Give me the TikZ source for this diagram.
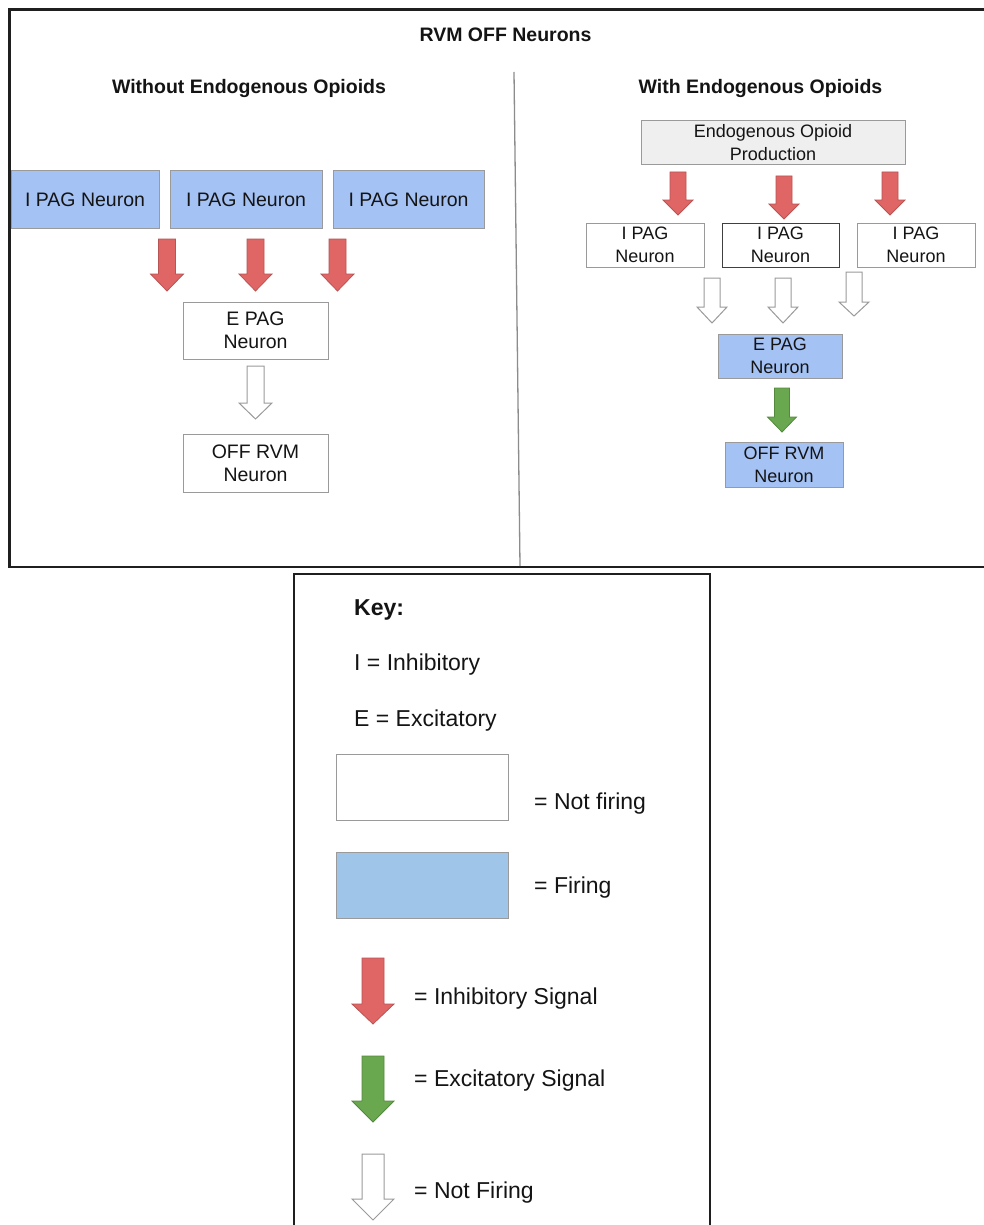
\documentclass[tikz,border=0pt]{standalone}
\usepackage{fontspec}
\setmainfont{Liberation Sans}
\definecolor{redf}{HTML}{E06666}
\definecolor{redd}{HTML}{B85454}
\definecolor{greenf}{HTML}{6AA84F}
\definecolor{greend}{HTML}{55883F}
\definecolor{bluef}{HTML}{A4C2F4}
\definecolor{keyblue}{HTML}{9FC5E8}
\definecolor{grayf}{HTML}{EFEFEF}
\definecolor{bord}{HTML}{9A9A9A}
\definecolor{txt}{HTML}{141414}
\newcommand{\fatarrow}[7]{% style, cx, top, tip, shaft half, head half, head start
  \draw[#1] (#2-#5,#3) -- (#2+#5,#3) -- (#2+#5,#7) -- (#2+#6,#7) -- (#2,#4)
    -- (#2-#6,#7) -- (#2-#5,#7) -- cycle;}
\tikzset{
  box/.style={draw=bord, line width=1pt, rectangle, inner sep=0pt, align=center, text=txt},
  firebox/.style={box, fill=bluef},
  offbox/.style={box, fill=white},
  lfont/.style={font=\fontsize{19.5}{23}\selectfont},
  rfont/.style={font=\fontsize{18}{23}\selectfont},
  ttl/.style={font=\bfseries\fontsize{19.5}{23}\selectfont, text=txt, inner sep=0pt},
  keytxt/.style={font=\fontsize{23}{27}\selectfont, text=txt, inner sep=0pt, anchor=base west},
  inh/.style={fill=redf, draw=redd, line width=0.8pt, line join=miter},
  exc/.style={fill=greenf, draw=greend, line width=0.8pt, line join=miter},
  hol/.style={fill=white, draw=bord, line width=1pt, line join=miter},
}
\begin{document}
\begin{tikzpicture}[x=1pt, y=-1pt]
\useasboundingbox (0,0) rectangle (984,1225);
\fill[white] (0,0) rectangle (984,1225);

% outer frame and divider
\draw[line width=2.2pt, draw=black!88] (9.5,9.5) rectangle (995,567);
\draw[line width=1.3pt, draw=black!45] (514,72) -- (520,566);

% titles
\node[ttl, anchor=base] (title) at (505.5,42) {RVM OFF Neurons};
\node[ttl, anchor=base] (tleft) at (249,94) {Without Endogenous Opioids};
\node[ttl, anchor=base] (tright) at (760.5,94) {With Endogenous Opioids};

% left panel
\node[firebox, lfont, minimum width=148pt, minimum height=57pt] (l1) at (85,199.5) {I PAG Neuron};
\node[firebox, lfont, minimum width=152pt, minimum height=57pt] (l2) at (246,199.5) {I PAG Neuron};
\node[firebox, lfont, minimum width=151pt, minimum height=57pt] (l3) at (408.5,199.5) {I PAG Neuron};
\node[offbox, lfont, minimum width=145pt, minimum height=57pt] (le) at (255.5,330.5) {E PAG\\Neuron};
\node[offbox, lfont, minimum width=145pt, minimum height=58pt] (lo) at (255.5,463) {OFF RVM\\Neuron};

\fatarrow{inh}{167}{239}{291}{8.5}{16.5}{274}
\fatarrow{inh}{255.5}{239}{291}{8.5}{16.5}{274}
\fatarrow{inh}{337.5}{239}{291}{8.5}{16.5}{274}
\fatarrow{hol}{255.5}{366}{419}{8.5}{16.5}{403}

% right panel
\node[box, fill=grayf, rfont, minimum width=264pt, minimum height=44pt] (eop) at (773,143) {Endogenous Opioid\\Production};
\node[offbox, rfont, minimum width=118pt, minimum height=44pt] (r1) at (645,245) {I PAG\\Neuron};
\node[offbox, rfont, draw=black!75, minimum width=117pt, minimum height=44pt] (r2) at (780.5,245) {I PAG\\Neuron};
\node[offbox, rfont, minimum width=118pt, minimum height=44pt] (r3) at (916,245) {I PAG\\Neuron};
\node[firebox, rfont, minimum width=124pt, minimum height=44pt] (re) at (780,356) {E PAG\\Neuron};
\node[firebox, rfont, minimum width=118pt, minimum height=45pt] (ro) at (784,464.5) {OFF RVM\\Neuron};

\fatarrow{inh}{678}{172}{215}{8}{15}{200}
\fatarrow{inh}{784}{176}{219}{8}{15}{204}
\fatarrow{inh}{890}{172}{215}{8}{15}{200}
\fatarrow{hol}{712}{278}{323}{8}{15}{307}
\fatarrow{hol}{783}{278}{323}{8}{15}{307}
\fatarrow{hol}{854}{272}{316}{8}{15}{302}
\fatarrow{exc}{782}{388}{432}{7.5}{14.5}{417}

% key
\draw[line width=2.2pt, draw=black!88] (294,1240) -- (294,574) -- (710,574) -- (710,1240);
\node[keytxt, font=\bfseries\fontsize{23}{27}\selectfont] (key) at (354,615) {Key:};
\node[keytxt] (ki) at (354,670) {I = Inhibitory};
\node[keytxt] (ke) at (354,726) {E = Excitatory};
\node[offbox, minimum width=172pt, minimum height=66pt] (knf) at (422,787) {};
\node[keytxt] (knft) at (534,809) {= Not firing};
\node[box, fill=keyblue, minimum width=172pt, minimum height=66pt] (kf) at (422,885) {};
\node[keytxt] (kft) at (534,893) {= Firing};

\fatarrow{inh}{373}{958}{1024}{11}{21}{1004}
\node[keytxt] (kis) at (414,1004) {= Inhibitory Signal};
\fatarrow{exc}{373}{1056}{1122}{11}{21}{1101}
\node[keytxt] (kes) at (414,1086) {= Excitatory Signal};
\fatarrow{hol}{373}{1154}{1220}{11}{21}{1199}
\node[keytxt] (kns) at (414,1198) {= Not Firing};
\end{tikzpicture}
\end{document}
